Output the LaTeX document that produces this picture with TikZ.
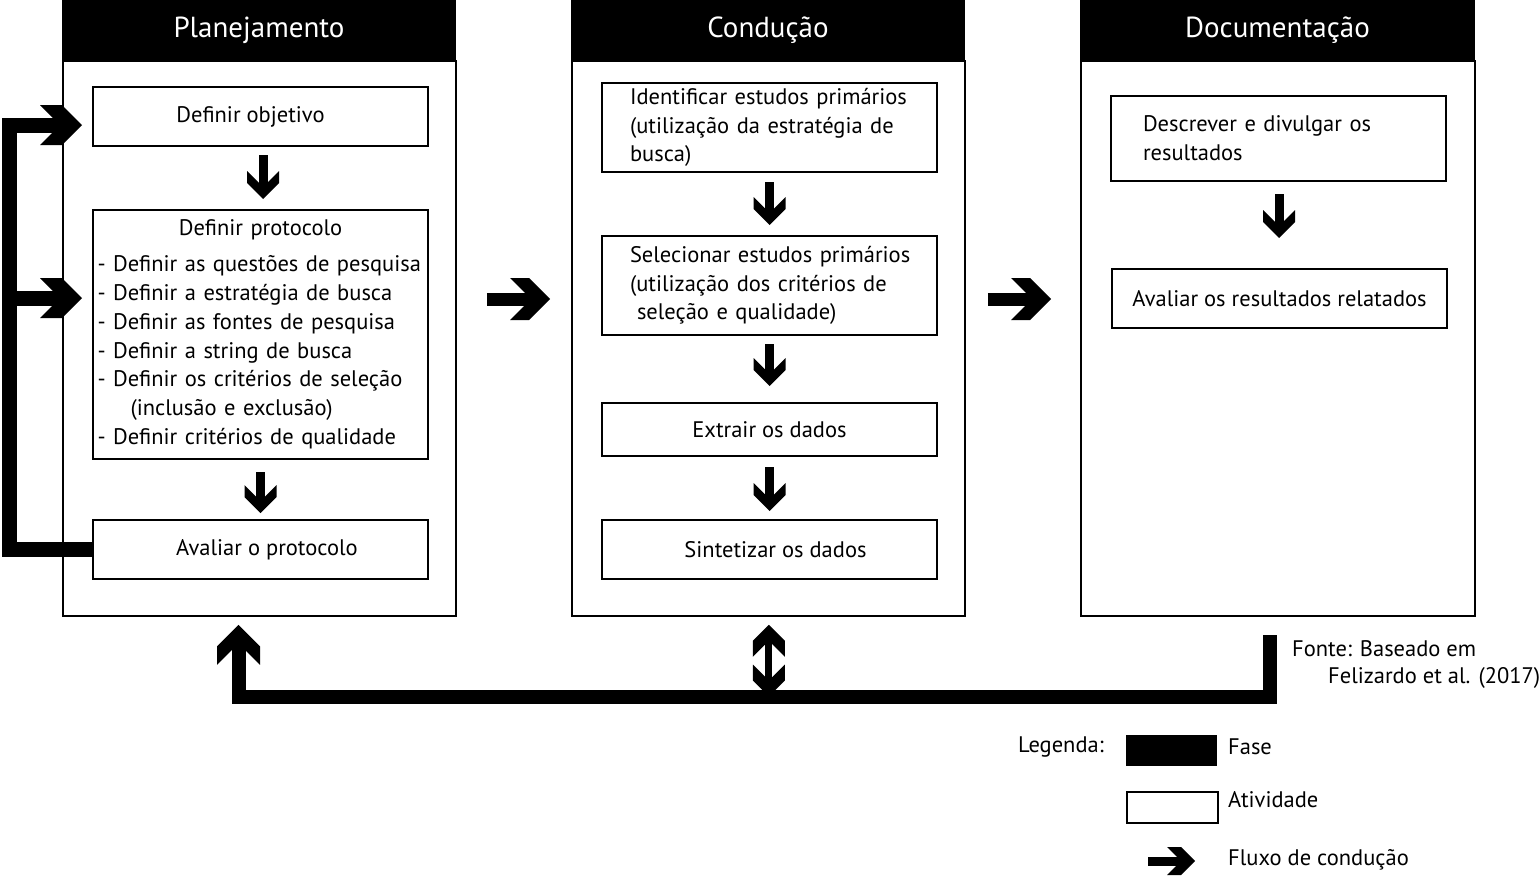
\documentclass[tikz,border=0pt]{standalone}
\usepackage{fontspec}
\setmainfont{PT Sans}
\usetikzlibrary{arrows.meta,calc}
\pgfdeclarearrow{
  name = Chev,
  parameters = {\the\pgfarrowlength,\the\pgfarrowwidth},
  setup code = {
    \pgfarrowssettipend{0pt}
    \pgfarrowssetbackend{-\pgfarrowlength}
    \pgfarrowssetlineend{-.25\pgfarrowlength}
    \pgfarrowshullpoint{0pt}{0pt}
    \pgfarrowsupperhullpoint{-.5\pgfarrowwidth}{.5\pgfarrowwidth}
    \pgfarrowsupperhullpoint{-\pgfarrowlength}{.5\pgfarrowwidth}
    \pgfarrowssavethe\pgfarrowlength
    \pgfarrowssavethe\pgfarrowwidth
  },
  drawing code = {
    \pgfpathmoveto{\pgfqpoint{0pt}{0pt}}
    \pgfpathlineto{\pgfpoint{-0.5*\pgfarrowwidth}{0.5*\pgfarrowwidth}}
    \pgfpathlineto{\pgfpoint{-1*\pgfarrowlength}{0.5*\pgfarrowwidth}}
    \pgfpathlineto{\pgfpoint{-1*\pgfarrowlength+0.5*\pgfarrowwidth}{0pt}}
    \pgfpathlineto{\pgfpoint{-1*\pgfarrowlength}{-0.5*\pgfarrowwidth}}
    \pgfpathlineto{\pgfpoint{-0.5*\pgfarrowwidth}{-0.5*\pgfarrowwidth}}
    \pgfpathclose
    \pgfusepathqfill
  },
  defaults = {length=40pt, width=42pt}
}
\begin{document}
\begin{tikzpicture}[x=1pt,y=-1pt,
  txt/.style={font=\fontsize{22.5}{28.8}\selectfont, inner sep=0pt},
  phasehead/.style={fill=black, draw=black, line width=1pt, text=white,
    font=\fontsize{29}{32}\selectfont, minimum width=393pt, minimum height=60pt,
    anchor=north west, inner sep=0pt},
  phasebox/.style={draw=black, line width=1.8pt, minimum width=393pt,
    minimum height=555pt, anchor=north west, inner sep=0pt},
  act/.style={txt, draw=black, line width=2pt, anchor=north west, align=center},
  bigflow/.style={line width=13pt, -{Chev[length=40pt,width=42pt]}},
  smallflow/.style={line width=9pt, -{Chev[length=28pt,width=32pt]}},
  loopflow/.style={line width=15pt, line join=miter, -{Chev[length=42pt,width=40pt]}},
  backflow/.style={line width=14pt, line join=miter, -{Chev[length=40pt,width=43pt]}},
  dblflow/.style={line width=7pt, {Chev[length=32pt,width=32pt]}-{Chev[length=32pt,width=32pt]}},
  legflow/.style={line width=9pt, -{Chev[length=28pt,width=28pt]}}
]
\useasboundingbox (0,0) rectangle (1539,878);

% phases
\node[phasebox] (plb) at (62,60) {};
\node[phasehead] (plh) at (62,0) {Planejamento};
\node[phasebox] (cdb) at (571,60) {};
\node[phasehead] (cdh) at (571,0) {Condução};
\node[phasebox, minimum width=394pt] (dob) at (1080,60) {};
\node[phasehead, minimum width=394pt] (doh) at (1080,0) {Documentação};

% Planejamento activities
\node[act, minimum width=335pt, minimum height=59pt] (obj) at (92,86) {\hspace*{-20pt}Definir objetivo};
\node[act, minimum width=335pt, minimum height=249pt, text width=326pt, align=left] (prot) at (92,209)
  {{\centering Definir protocolo\par}\vspace{7pt}%
   - Definir as questões de pesquisa\\
   - Definir a estratégia de busca\\
   - Definir as fontes de pesquisa\\
   - Definir a string de busca\\
   - Definir os critérios de seleção\\
   \hspace*{33pt}(inclusão e exclusão)\\
   - Definir critérios de qualidade};
\node[act, minimum width=335pt, minimum height=59pt] (aval) at (92,519) {\hspace*{13pt}Avaliar o protocolo};

% Conducao activities
\node[act, minimum width=335pt, minimum height=89pt, text width=279pt, align=left] (ide) at (601,82)
  {\mbox{Identificar estudos primários}\\\mbox{(utilização da estratégia de}\\busca)};
\node[act, minimum width=335pt, minimum height=99pt, text width=279pt, align=left] (sel) at (601,235)
  {\mbox{Selecionar estudos primários}\\\mbox{(utilização dos critérios de}\\\mbox{\hspace*{7pt}seleção e qualidade)}};
\node[act, minimum width=335pt, minimum height=53pt] (ext) at (601,402) {Extrair os dados};
\node[act, minimum width=335pt, minimum height=59pt] (sin) at (601,519) {\hspace*{12pt}Sintetizar os dados};

% Documentacao activities
\node[act, minimum width=335pt, minimum height=85pt, text width=271pt, align=left] (des) at (1110,95)
  {\mbox{Descrever e divulgar os}\\resultados};
\node[act, minimum width=335pt, minimum height=59pt] (res) at (1111,268) {Avaliar os resultados relatados};

% vertical flows
\draw[smallflow] ($(obj.south)+(2.5,8)$) -- ($(prot.north)+(2.5,-10)$);
\draw[smallflow] ($(prot.south)+(0,12)$) -- ($(aval.north)+(0,-6)$);
\draw[smallflow] ($(ide.south)+(0,9)$) -- ($(sel.north)+(0,-10)$);
\draw[smallflow] ($(sel.south)+(0,8)$) -- ($(ext.north)+(0,-16)$);
\draw[smallflow] ($(ext.south)+(0,10)$) -- ($(sin.north)+(0,-8)$);
\draw[smallflow] ($(des.south)+(0.5,12)$) -- ($(res.north)+(-0.5,-30)$);

% horizontal flows between phases
\coordinate (hy) at (0,299);
\draw[bigflow] ($(plb.east |- hy)+(30,0)$) -- ($(cdb.west |- hy)+(-21,0)$);
\draw[bigflow] ($(cdb.east |- hy)+(22,0)$) -- ($(dob.west |- hy)+(-29,0)$);

% left feedback loop
\coordinate (lc) at (9.5,125);
\coordinate (lb) at (9.5,298);
\draw[loopflow] (aval.west) -| (lc) -- ($(obj.west |- lc)+(-10,0)$);
\draw[loopflow] (lb) -- ($(prot.west |- lb)+(-10,0)$);

% bottom feedback loop
\coordinate (fb) at (1270,635);
\coordinate (bb) at (238.5,696.5);
\draw[backflow] (fb) |- (bb) -- ($(plb.south -| bb)+(0,8)$);
\draw[dblflow] ($(cdb.south)+(0.5,8)$) -- ($(cdb.south |- bb)+(0.5,0)$);

% source
\node[txt, anchor=west] (fon1) at (1292,649) {Fonte: Baseado em};
\node[txt, anchor=west] (fon2) at (1328,678) {Felizardo et al. (2017)};

% legend
\node[txt, anchor=west] (leg) at (1018,747) {Legenda:};
\node[fill=black, minimum width=91pt, minimum height=31pt, anchor=north west, inner sep=0pt] (lgf) at (1126,735) {};
\node[txt, anchor=west] (lgft) at (1228,747) {Fase};
\node[draw=black, line width=2pt, minimum width=91pt, minimum height=31pt, anchor=north west, inner sep=0pt] (lga) at (1126,791) {};
\node[txt, anchor=west] (lgat) at (1228,800) {Atividade};
\coordinate (lg1) at (1148,861);
\coordinate (lg2) at (1195,861);
\draw[legflow] (lg1) -- (lg2);
\node[txt, anchor=west] (lgfx) at (1228,860) {Fluxo de condução};
\end{tikzpicture}
\end{document}
